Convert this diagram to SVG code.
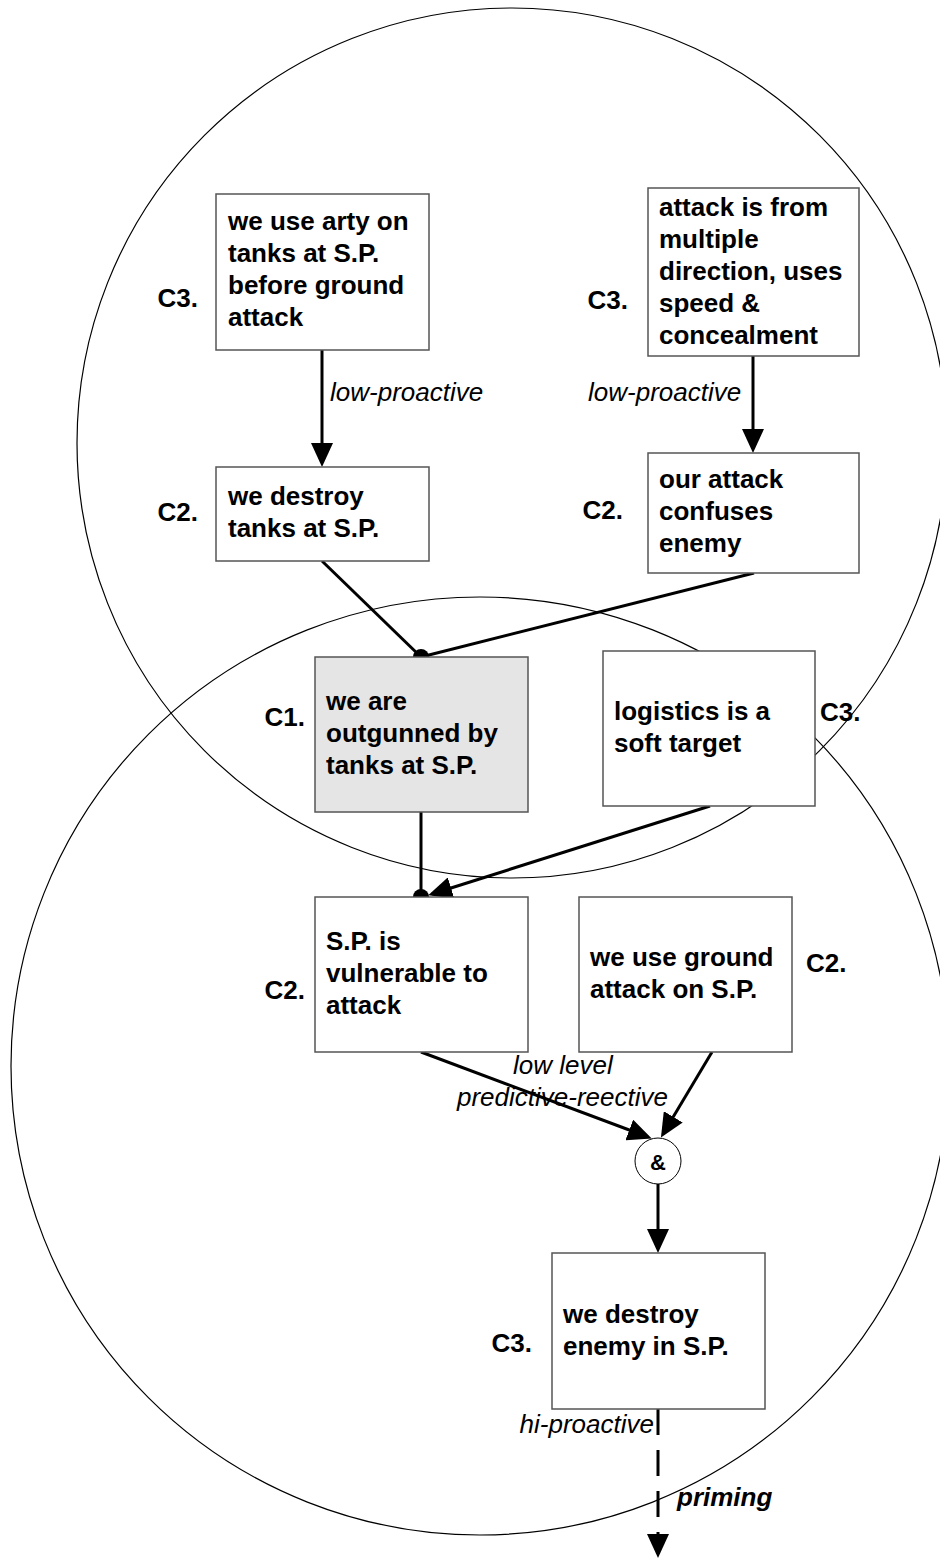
<svg xmlns="http://www.w3.org/2000/svg" width="940" height="1559" viewBox="0 0 940 1559">
  <defs>
    <marker id="arrow" markerUnits="userSpaceOnUse" markerWidth="24" markerHeight="22" refX="20" refY="11" orient="auto">
      <path d="M0,0 L24,11 L0,22 Z" fill="#000"/>
    </marker>
    <style>
      .ring { fill: none; stroke: #000; stroke-width: 1.2; }
      .box { fill: #fff; stroke: #555; stroke-width: 1.5; }
      .box.core { fill: #e5e5e5; }
      .txt { font-family: "Liberation Sans", Arial, sans-serif; font-size: 26px; font-weight: bold; fill: #000; }
      .tag { font-family: "Liberation Sans", Arial, sans-serif; font-size: 26px; font-weight: bold; fill: #000; }
      .lbl { font-family: "Liberation Sans", Arial, sans-serif; font-size: 26px; font-style: italic; fill: #000; }
      .lbl.strong { font-weight: bold; }
      .edge { fill: none; stroke: #000; stroke-width: 3; }
      .edge.dash { stroke-dasharray: 26 15; }
      .dot { fill: #000; }
    </style>
  </defs>

  <!-- two overlapping scopes -->
  <g id="scopes">
    <circle class="ring" cx="512" cy="443" r="435"/>
    <circle class="ring" cx="480" cy="1066" r="469"/>
  </g>

  <!-- connectors -->
  <g id="connectors">
    <line class="edge" x1="322" y1="350" x2="322" y2="463" marker-end="url(#arrow)"/>
    <line class="edge" x1="753" y1="356" x2="753" y2="449" marker-end="url(#arrow)"/>
    <line class="edge" x1="322" y1="561" x2="421" y2="657"/>
    <line class="edge" x1="754" y1="573" x2="421" y2="657"/>
    <circle class="dot" cx="421" cy="657" r="8"/>
    <line class="edge" x1="421" y1="812" x2="421" y2="897"/>
    <line class="edge" x1="710" y1="806" x2="432" y2="894" marker-end="url(#arrow)"/>
    <circle class="dot" cx="421" cy="897" r="8"/>
    <line class="edge" x1="421" y1="1052" x2="648" y2="1137" marker-end="url(#arrow)"/>
    <line class="edge" x1="712" y1="1052" x2="663" y2="1134" marker-end="url(#arrow)"/>
    <line class="edge" x1="658" y1="1184" x2="658" y2="1249" marker-end="url(#arrow)"/>
    <line class="edge dash" x1="658" y1="1409" x2="658" y2="1554" marker-end="url(#arrow)"/>

    <text class="lbl" x="330" y="401">low-proactive</text>
    <text class="lbl" x="588" y="401">low-proactive</text>
    <text class="lbl" x="513" y="1074">low level</text>
    <text class="lbl" x="457" y="1106">predictive-reective</text>
    <text class="lbl" x="654" y="1433" text-anchor="end">hi-proactive</text>
    <text class="lbl strong" x="677" y="1506">priming</text>
  </g>

  <!-- and-junction -->
  <g id="and-node">
    <circle cx="658" cy="1161" r="23" fill="#fff" stroke="#000" stroke-width="1"/>
    <text class="txt" x="658" y="1170" text-anchor="middle" style="font-size:22px">&amp;</text>
  </g>

  <g id="arty">
    <rect class="box" x="216" y="194" width="213" height="156"/>
    <text class="txt" x="228"><tspan x="228" y="230">we use arty on</tspan><tspan x="228" y="262">tanks at S.P.</tspan><tspan x="228" y="294">before ground</tspan><tspan x="228" y="326">attack</tspan></text>
    <text class="tag" x="198" y="307" text-anchor="end">C3.</text>
  </g>

  <g id="multi-direction">
    <rect class="box" x="648" y="188" width="211" height="168"/>
    <text class="txt"><tspan x="659" y="216">attack is from</tspan><tspan x="659" y="248">multiple</tspan><tspan x="659" y="280">direction, uses</tspan><tspan x="659" y="312">speed &amp;</tspan><tspan x="659" y="344">concealment</tspan></text>
    <text class="tag" x="628" y="309" text-anchor="end">C3.</text>
  </g>

  <g id="destroy-tanks">
    <rect class="box" x="216" y="467" width="213" height="94"/>
    <text class="txt"><tspan x="228" y="505">we destroy</tspan><tspan x="228" y="537">tanks at S.P.</tspan></text>
    <text class="tag" x="198" y="521" text-anchor="end">C2.</text>
  </g>

  <g id="confuses">
    <rect class="box" x="648" y="453" width="211" height="120"/>
    <text class="txt"><tspan x="659" y="488">our attack</tspan><tspan x="659" y="520">confuses</tspan><tspan x="659" y="552">enemy</tspan></text>
    <text class="tag" x="623" y="519" text-anchor="end">C2.</text>
  </g>

  <g id="outgunned">
    <rect class="box core" x="315" y="657" width="213" height="155"/>
    <text class="txt"><tspan x="326" y="710">we are</tspan><tspan x="326" y="742">outgunned by</tspan><tspan x="326" y="774">tanks at S.P.</tspan></text>
    <text class="tag" x="305" y="726" text-anchor="end">C1.</text>
  </g>

  <g id="logistics">
    <rect class="box" x="603" y="651" width="212" height="155"/>
    <text class="txt"><tspan x="614" y="720">logistics is a</tspan><tspan x="614" y="752">soft target</tspan></text>
    <text class="tag" x="820" y="721">C3.</text>
  </g>

  <g id="vulnerable">
    <rect class="box" x="315" y="897" width="213" height="155"/>
    <text class="txt"><tspan x="326" y="950">S.P. is</tspan><tspan x="326" y="982">vulnerable to</tspan><tspan x="326" y="1014">attack</tspan></text>
    <text class="tag" x="305" y="999" text-anchor="end">C2.</text>
  </g>

  <g id="ground-attack">
    <rect class="box" x="579" y="897" width="213" height="155"/>
    <text class="txt"><tspan x="590" y="966">we use ground</tspan><tspan x="590" y="998">attack on S.P.</tspan></text>
    <text class="tag" x="806" y="972">C2.</text>
  </g>

  <g id="destroy-enemy">
    <rect class="box" x="552" y="1253" width="213" height="156"/>
    <text class="txt"><tspan x="563" y="1323">we destroy</tspan><tspan x="563" y="1355">enemy in S.P.</tspan></text>
    <text class="tag" x="532" y="1352" text-anchor="end">C3.</text>
  </g>
</svg>
